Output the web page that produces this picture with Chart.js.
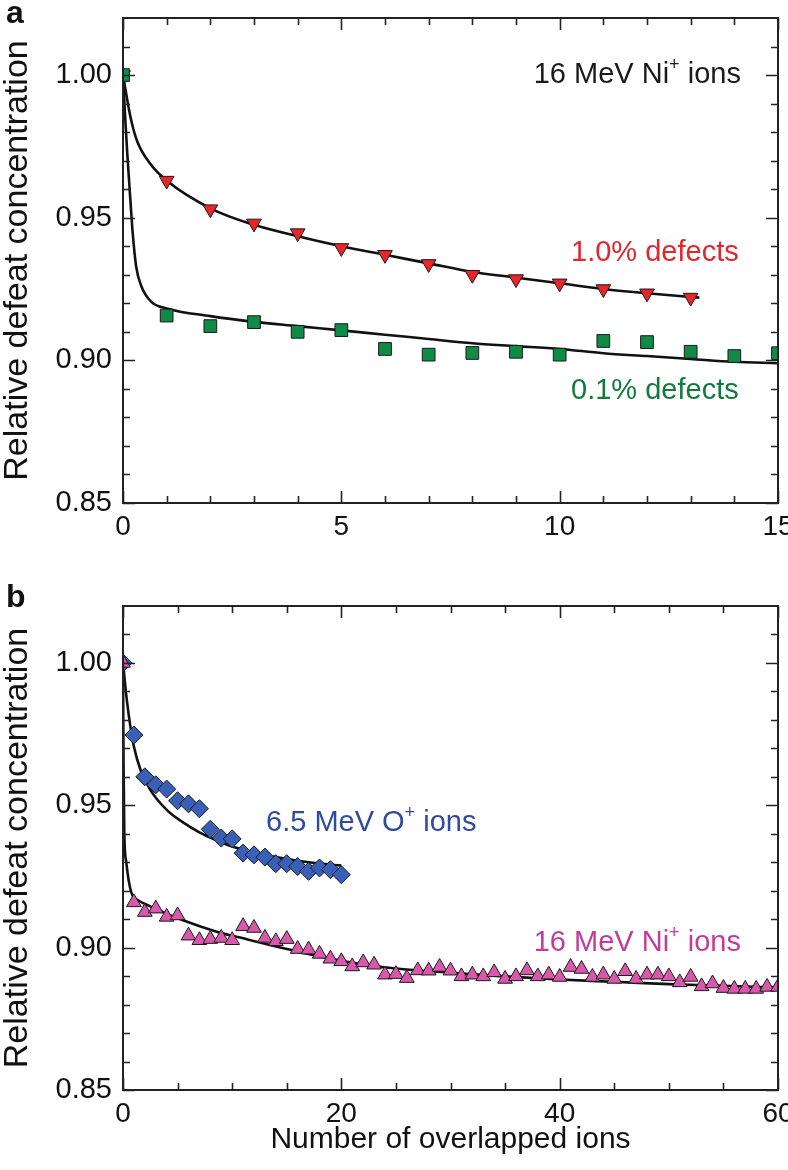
<!DOCTYPE html>
<html>
<head>
<meta charset="utf-8">
<script src="https://cdn.jsdelivr.net/npm/chart.js@4.4.1/dist/chart.umd.min.js"></script>
<style>
  body { margin: 0; background: #fff; width: 788px; height: 1170px; position: relative; overflow: hidden; }
  .panel { position: absolute; left: 0; width: 788px; }
  .letter { position: absolute; left: 6px; font: bold 32px "Liberation Sans", Arial, sans-serif; color: #111; }
</style>
</head>
<body>
<div class="panel" style="top:0;height:560px"><canvas id="chartA" width="788" height="560"></canvas></div>
<div class="panel" style="top:585px;height:585px"><canvas id="chartB" width="788" height="585"></canvas></div>
<div class="letter" style="top:-6px">a</div>
<div class="letter" style="top:578px">b</div>
<script>
// panel a: 16 MeV Ni+ ions, two defect concentrations
const aRedX = [0, 1, 2, 3, 4, 5, 6, 7, 8, 9, 10, 11, 12, 13];
const aRed = [1.000, 0.963, 0.953, 0.948, 0.9446, 0.9394, 0.937, 0.9338, 0.930, 0.9285, 0.927, 0.925, 0.9235, 0.922];
const aGreenX = [0, 1, 2, 3, 4, 5, 6, 7, 8, 9, 10, 11, 12, 13, 14, 15];
const aGreen = [1.000, 0.9157, 0.912, 0.9134, 0.910, 0.9106, 0.904, 0.902, 0.9026, 0.903, 0.902, 0.9068, 0.9064, 0.903, 0.9015, 0.9025];
// fitted curves
const aRedFitX = [0, 0.17, 0.32, 0.62, 1, 2, 3, 4, 5, 6, 7, 8, 9, 10, 11, 12, 13.2];
const aRedFit = [1.0, 0.9854, 0.977, 0.969, 0.963, 0.9533, 0.9475, 0.9435, 0.940, 0.937, 0.934, 0.931, 0.929, 0.927, 0.925, 0.9235, 0.922];
const aGreenFitX = [0, 0.05, 0.1, 0.17, 0.22, 0.3, 0.42, 0.65, 1, 2, 3, 4, 5, 6, 7, 8, 9, 10, 11, 12, 13, 14, 15];
const aGreenFit = [1.0, 0.985, 0.972, 0.956, 0.945, 0.933, 0.926, 0.9205, 0.9182, 0.9155, 0.9135, 0.912, 0.9105, 0.909, 0.9075, 0.906, 0.905, 0.904, 0.9025, 0.9015, 0.9005, 0.8995, 0.899];

// panel b: O+ vs Ni+ ions
const bBlueX = [0, 1, 2, 3, 4, 5, 6, 7, 8, 9, 10, 11, 12, 13, 14, 15, 16, 17, 18, 19, 20];
const bBlue = [1.000, 0.9747, 0.960, 0.9572, 0.9557, 0.9516, 0.9505, 0.9488, 0.9416, 0.9385, 0.9382,
  0.9332, 0.9326, 0.9318, 0.9295, 0.9295, 0.9285, 0.9268, 0.928, 0.9274, 0.9256];
const bMagentaX = [0, 1, 2, 3, 4, 5, 6, 7, 8, 9, 10, 11, 12, 13, 14, 15, 16, 17, 18, 19, 20,
  21, 22, 23, 24, 25, 26, 27, 28, 29, 30, 31, 32, 33, 34, 35, 36, 37, 38, 39, 40,
  41, 42, 43, 44, 45, 46, 47, 48, 49, 50, 51, 52, 53, 54, 55, 56, 57, 58, 59, 60];
const bMagenta = [1.000,
  0.9159, 0.9125, 0.9137, 0.9108, 0.9113, 0.9042, 0.9026, 0.903, 0.9034, 0.9026,
  0.9075, 0.9069, 0.9034, 0.9022, 0.903, 0.8995, 0.8993, 0.8978, 0.8961, 0.8952,
  0.8934, 0.8948, 0.894, 0.8905, 0.8907, 0.8893, 0.892, 0.8919, 0.8932, 0.8919,
  0.8899, 0.8905, 0.8899, 0.8913, 0.889, 0.8899, 0.892, 0.8899, 0.8905, 0.8897,
  0.8932, 0.8925, 0.8897, 0.8905, 0.889, 0.8917, 0.889, 0.8905, 0.8905, 0.8899,
  0.8878, 0.8897, 0.8864, 0.8874, 0.8858, 0.8855, 0.8855, 0.8855, 0.8862, 0.8862];
const bBlueFitX = [0, 0.35, 0.7, 1, 1.6, 2.5, 4, 5.5, 7, 8.5, 10, 12, 14, 16, 18, 20];
const bBlueFit = [1.0, 0.987, 0.977, 0.9706, 0.9625, 0.9554, 0.9484, 0.944, 0.9405, 0.9378, 0.9355, 0.9335, 0.9318, 0.9305, 0.9295, 0.9288];
const bMagentaFitX = [0, 0.05, 0.12, 0.3, 0.55, 0.85, 1.3, 2.5, 5.5, 8.5, 11.5, 14.5, 17.5, 21, 25, 30, 35, 40, 45, 50, 55, 60];
const bMagentaFit = [1.0, 0.965, 0.940, 0.930, 0.923, 0.9185, 0.9168, 0.9145, 0.9096, 0.9057, 0.9028, 0.900, 0.8973, 0.8947, 0.8927, 0.8912, 0.8899, 0.8888, 0.888, 0.8872, 0.8866, 0.886];

// ticks
const yMinorTicks = [0.85, 0.86, 0.87, 0.88, 0.89, 0.90, 0.91, 0.92, 0.93, 0.94, 0.95, 0.96, 0.97, 0.98, 0.99, 1.00, 1.01];
const yTickLabels = ['0.85', '0.90', '0.95', '1.00'];
const aXTicks = [0, 1, 2, 3, 4, 5, 6, 7, 8, 9, 10, 11, 12, 13, 14, 15];
const aXTickLabels = ['0', '5', '10', '15'];
const bXTicks = [0, 5, 10, 15, 20, 25, 30, 35, 40, 45, 50, 55, 60];
const bXTickLabels = ['0', '20', '40', '60'];

const FONT = '"Liberation Sans", Arial, sans-serif';

function pts(xs, ys) {
    return xs.map((x, i) => ({ x: x, y: ys[i] }));
}

function markers(label, xs, ys, color, style, radius, rotation) {
    return {
        label: label,
        data: pts(xs, ys),
        showLine: false,
        pointStyle: style,
        pointRadius: radius,
        pointRotation: rotation || 0,
        pointBackgroundColor: color,
        pointBorderColor: '#1a1a1a',
        pointBorderWidth: 1,
        order: 0
    };
}

function fitLine(xs, ys) {
    return {
        label: 'fit',
        data: pts(xs, ys),
        showLine: true,
        borderColor: '#111',
        borderWidth: 2.6,
        pointRadius: 0,
        cubicInterpolationMode: 'monotone',
        order: 1
    };
}

// frame plus inward ticks on all four sides
const frameTicks = {
    id: 'frameTicks',
    afterDatasetsDraw(chart, args, opts) {
        const ctx = chart.ctx;
        const a = chart.chartArea;
        const xs = chart.scales.x, ys = chart.scales.y;
        ctx.save();
        ctx.strokeStyle = '#222';
        ctx.lineWidth = 1.6;
        ctx.beginPath();
        opts.yTicks.forEach(v => {
            const p = Math.round(ys.getPixelForValue(v)) + 0.5;
            const major = opts.yMajor.includes(v.toFixed(2));
            const len = major ? 12 : 7;
            ctx.moveTo(a.left, p); ctx.lineTo(a.left + len, p);
            ctx.moveTo(a.right, p); ctx.lineTo(a.right - len, p);
        });
        opts.xTicks.forEach(v => {
            const p = Math.round(xs.getPixelForValue(v)) + 0.5;
            const major = opts.xMajor.includes(String(v));
            const len = major ? 12 : 7;
            ctx.moveTo(p, a.bottom); ctx.lineTo(p, a.bottom - len);
            ctx.moveTo(p, a.top); ctx.lineTo(p, a.top + len);
        });
        ctx.stroke();
        ctx.lineWidth = 2;
        ctx.strokeRect(a.left, a.top, a.right - a.left, a.bottom - a.top);
        ctx.restore();
    }
};

function drawRich(ctx, parts, x, y, align, size) {
    const sup = Math.round(size * 0.62);
    let w = 0;
    parts.forEach(p => {
        ctx.font = (p.sup ? sup : size) + 'px ' + FONT;
        w += ctx.measureText(p.t).width;
    });
    let cx = align === 'right' ? x - w : x;
    ctx.textBaseline = 'middle';
    ctx.textAlign = 'left';
    parts.forEach(p => {
        ctx.font = (p.sup ? sup : size) + 'px ' + FONT;
        ctx.fillText(p.t, cx, p.sup ? y - size * 0.33 : y);
        cx += ctx.measureText(p.t).width;
    });
}

const notes = {
    id: 'notes',
    afterDraw(chart, args, opts) {
        const ctx = chart.ctx;
        ctx.save();
        opts.items.forEach(n => {
            ctx.fillStyle = n.color;
            drawRich(ctx, n.parts, chart.scales.x.getPixelForValue(n.x), chart.scales.y.getPixelForValue(n.y), n.align, n.size);
        });
        ctx.restore();
    }
};

function makeOptions(xMax, xTicks, xLabels, padTop, xHeight, withTitle, noteItems) {
    return {
        responsive: false,
        animation: false,
        devicePixelRatio: 1,
        layout: { padding: { top: padTop, right: 10, left: 0, bottom: 0 } },
        plugins: {
            legend: { display: false },
            tooltip: { enabled: false },
            frameTicks: { yTicks: yMinorTicks, yMajor: yTickLabels, xTicks: xTicks, xMajor: xLabels },
            notes: { items: noteItems }
        },
        scales: {
            x: {
                type: 'linear', min: 0, max: xMax,
                afterBuildTicks: s => { s.ticks = xTicks.map(v => ({ value: v })); },
                afterFit: s => { s.height = xHeight; s.paddingLeft = 0; s.paddingRight = 0; },
                grid: { display: false, drawTicks: false },
                border: { display: false },
                ticks: {
                    padding: 7, color: '#111', autoSkip: false, maxRotation: 0,
                    font: { family: FONT, size: 28 },
                    callback: v => xLabels.includes(String(v)) ? String(v) : ''
                },
                title: {
                    display: withTitle, text: 'Number of overlapped ions', color: '#111',
                    font: { family: FONT, size: 30 }, padding: { top: 0, bottom: 12 }
                }
            },
            y: {
                type: 'linear', min: 0.85, max: 1.02,
                afterBuildTicks: s => { s.ticks = yMinorTicks.map(v => ({ value: v })); },
                afterFit: s => { s.width = 123; s.paddingTop = 0; s.paddingBottom = 0; },
                grid: { display: false, drawTicks: false },
                border: { display: false },
                ticks: {
                    padding: 11, color: '#111', autoSkip: false,
                    font: { family: FONT, size: 29 },
                    callback: v => yTickLabels.includes(v.toFixed(2)) ? v.toFixed(2) : ''
                },
                title: {
                    display: true, text: 'Relative defeat concentration', color: '#111',
                    font: { family: FONT, size: 34, lineHeight: 1 }, padding: { top: 1, bottom: 0 }
                }
            }
        }
    };
}

new Chart(document.getElementById('chartA'), {
    type: 'scatter',
    data: {
        datasets: [
            markers('0.1% defects', aGreenX, aGreen, '#0f8a47', 'rect', 9),
            markers('1.0% defects', aRedX, aRed, '#e8252a', 'triangle', 8.5, 180),
            fitLine(aRedFitX, aRedFit),
            fitLine(aGreenFitX, aGreenFit)
        ]
    },
    options: makeOptions(15, aXTicks, aXTickLabels, 18, 57, false, [
        { parts: [{ t: '16 MeV Ni' }, { t: '+', sup: true }, { t: ' ions' }], x: 14.15, y: 1.0, align: 'right', color: '#1a1a1a', size: 29 },
        { parts: [{ t: '1.0% defects' }], x: 14.1, y: 0.9376, align: 'right', color: '#e1262d', size: 29 },
        { parts: [{ t: '0.1% defects' }], x: 14.1, y: 0.8892, align: 'right', color: '#137a3e', size: 29 }
    ]),
    plugins: [frameTicks, notes]
});

new Chart(document.getElementById('chartB'), {
    type: 'scatter',
    data: {
        datasets: [
            markers('16 MeV Ni+ ions', bMagentaX, bMagenta, '#d958ac', 'triangle', 8.5),
            markers('6.5 MeV O+ ions', bBlueX, bBlue, '#3a5fb6', 'rectRot', 9),
            fitLine(bBlueFitX, bBlueFit),
            fitLine(bMagentaFitX, bMagentaFit)
        ]
    },
    options: makeOptions(60, bXTicks, bXTickLabels, 21, 80, true, [
        { parts: [{ t: '6.5 MeV O' }, { t: '+', sup: true }, { t: ' ions' }], x: 13.1, y: 0.9438, align: 'left', color: '#2f4b9d', size: 29 },
        { parts: [{ t: '16 MeV Ni' }, { t: '+', sup: true }, { t: ' ions' }], x: 56.6, y: 0.9017, align: 'right', color: '#c33c98', size: 29 }
    ]),
    plugins: [frameTicks, notes]
});
</script>
</body>
</html>
